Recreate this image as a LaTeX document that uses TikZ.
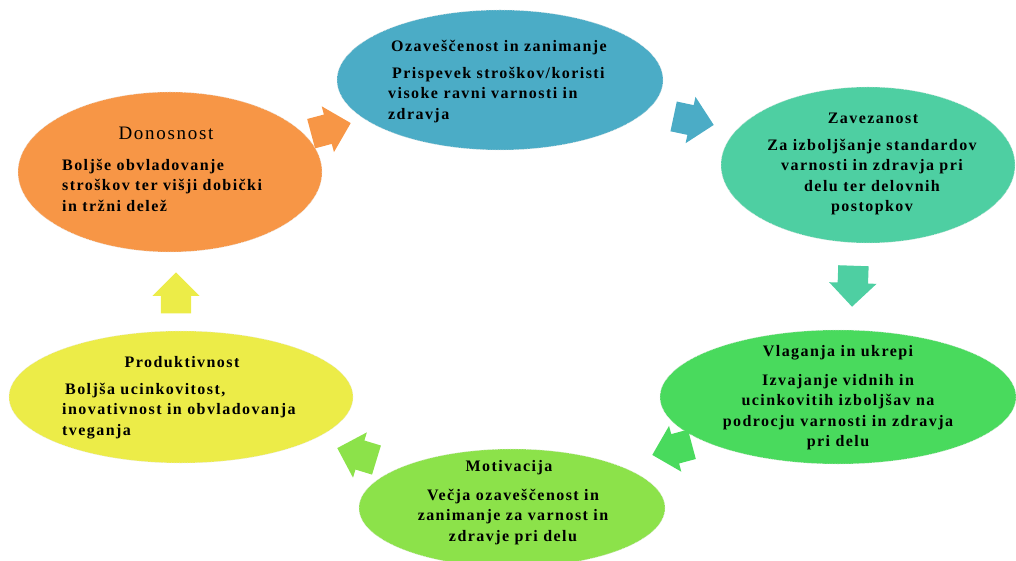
\documentclass[tikz,border=0pt]{standalone}
\usepackage{fontspec}
\setmainfont{Liberation Serif}
\newfontfamily\spaced[LetterSpace=9]{Liberation Serif}
\usetikzlibrary{shapes.geometric,shapes.arrows}
\definecolor{cBlue}{HTML}{4BACC6}
\definecolor{cTeal}{HTML}{4ECFA2}
\definecolor{cGreen}{HTML}{49DA5D}
\definecolor{cLime}{HTML}{8CE24A}
\definecolor{cYellow}{HTML}{ECEC48}
\definecolor{cOrange}{HTML}{F79646}
\tikzset{
  bubble/.style={ellipse, inner sep=0pt, draw=gray!18, densely dotted, line width=0.6pt},
  ttl/.style={font=\spaced\fontsize{16}{20}\selectfont\bfseries, inner sep=0pt},
  body/.style={font=\spaced\fontsize{16}{20.5}\selectfont\bfseries, inner sep=0pt},
  blockarrow/.style={single arrow, inner sep=0pt, draw=none, minimum height=41pt,
    single arrow head extend=8.5pt, single arrow head indent=0pt, anchor=tip}
}
% empty content of fixed height sets the shaft width of an arrow
\newcommand{\shaft}{\rule{0pt}{30pt}}
\begin{document}
\begin{tikzpicture}[x=1pt,y=1pt]
\useasboundingbox (0,0) rectangle (1016,560);
\clip (0,0) rectangle (1016,560);

% cycle stages
\node[bubble, fill=cBlue,   minimum width=326pt, minimum height=140pt] (ozav) at (500,480) {};
\node[bubble, fill=cTeal,   minimum width=294pt, minimum height=156pt] (zav)  at (868,395) {};
\node[bubble, fill=cGreen,  minimum width=356pt, minimum height=134pt] (vlag) at (838,163) {};
\node[bubble, fill=cLime,   minimum width=306pt, minimum height=118pt] (mot)  at (512,52) {};
\node[bubble, fill=cYellow, minimum width=344pt, minimum height=132pt] (prod) at (181,163) {};
\node[bubble, fill=cOrange, minimum width=304pt, minimum height=160pt] (don)  at (170,388) {};

% arrows between the stages, placed by their tips
\node[blockarrow, fill=cOrange, rotate=15]  (a1) at (351,437) {\shaft};
\node[blockarrow, fill=cBlue,   rotate=-12] (a2) at (714,435) {\shaft};
\node[blockarrow, fill=cTeal,   rotate=-92] (a3) at (852,253) {\shaft};
\node[blockarrow, fill=cGreen,  rotate=195] (a4) at (652,105) {\shaft};
\node[blockarrow, fill=cLime,   rotate=163] (a5) at (337,112) {\shaft};
\node[blockarrow, fill=cYellow, rotate=90]  (a6) at (176,288) {\shaft};

% texts
\node[ttl] (t1) at (499,512) {Ozaveščenost in zanimanje};
\node[body, anchor=west, align=left] (b1) at (388,465)
  {\hspace{4pt}Prispevek stroškov/koristi\\visoke ravni varnosti in\\zdravja};

\node[ttl] (t2) at (873,442) {Zavezanost};
\node[body, align=center] (b2) at (872,383)
  {Za izboljšanje standardov\\varnosti in zdravja pri\\delu ter delovnih\\postopkov};

\node[ttl] (t3) at (838,207) {Vlaganja in ukrepi};
\node[body, align=center] (b3) at (838,148)
  {Izvajanje vidnih in\\ucinkovitih izboljšav na\\podrocju varnosti in zdravja\\pri delu};

\node[ttl] (t4) at (509,92) {Motivacija};
\node[body, align=center] (b4) at (513,43)
  {Večja ozaveščenost in\\zanimanje za varnost in\\zdravje pri delu};

\node[ttl] (t5) at (182,198) {Produktivnost};
\node[body, anchor=west, align=left] (b5) at (62,149)
  {\hspace{3pt}Boljša ucinkovitost,\\inovativnost in obvladovanja\\tveganja};

\node[inner sep=0pt, font=\spaced\fontsize{19}{22}\selectfont] (t6) at (166,427) {Donosnost};
\node[body, anchor=west, align=left] (b6) at (62,375)
  {Boljše obvladovanje\\stroškov ter višji dobički\\in tržni delež};
\end{tikzpicture}
\end{document}
